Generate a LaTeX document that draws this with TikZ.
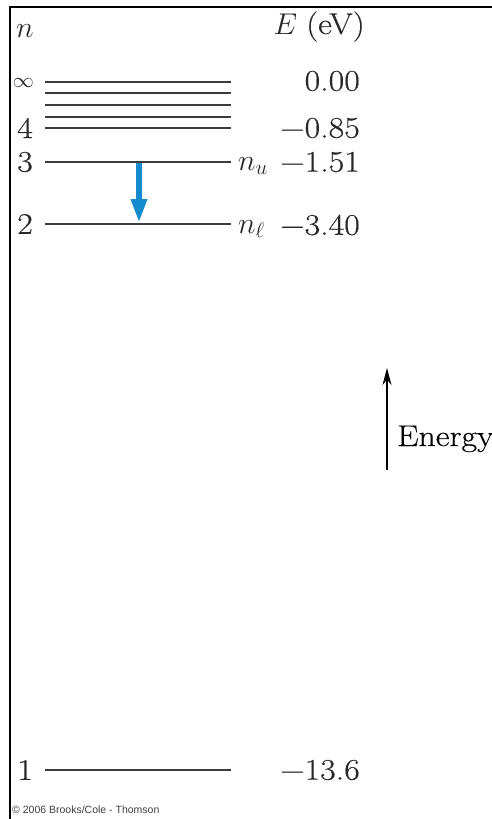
\RequirePackage{fix-cm}
\documentclass[tikz,border=0pt]{standalone}
\usepackage{fontspec}
\newfontfamily\smallsans{Liberation Sans}
\newfontfamily\widefont{Latin Modern Roman}[FakeStretch=1.13,FakeBold=0.4]
\usetikzlibrary{arrows.meta}
\definecolor{levelgray}{RGB}{60,60,60}
\definecolor{textgray}{RGB}{40,40,40}
\definecolor{arrowblue}{RGB}{20,140,205}
\begin{document}
\begin{tikzpicture}[x=1pt,y=-1pt,
  level/.style={draw=levelgray,line width=2pt},
  lbl/.style={inner sep=0pt,text=textgray,font=\fontsize{30}{36}\selectfont},
  wlbl/.style={inner sep=0pt,text=textgray,font=\widefont\fontsize{30}{36}\selectfont},
  val/.style={wlbl,anchor=east},
  nlab/.style={wlbl,anchor=east}]
\useasboundingbox (0,0) rectangle (491,819);
\fill[white] (0,0) rectangle (491,819);
% frame
\draw[line width=2pt] (10,830) -- (10,7) -- (500,7);
% headers
\node[lbl,anchor=base west] (hn) at (16,37) {$n$};
\node[lbl,anchor=base east] (hE) at (365,34) {$E$ {\widefont(eV)}};
% levels
\foreach \nm/\yy in {inf/82,l5/93,l6/105,l7/117,l4/128,l3/162,l2/224,l1/770}{
  \coordinate (\nm a) at (45,\yy);
  \coordinate (\nm b) at (231,\yy);
  \draw[level] (\nm a) -- (\nm b);
}
% left labels
\node[lbl,anchor=east,font=\fontsize{21}{24}\selectfont] (ninf) at (34,83) {$\infty$};
\node[nlab] (n4) at (33,128) {4};
\node[nlab] (n3) at (33,162) {3};
\node[nlab] (n2) at (33,224) {2};
\node[nlab] (n1) at (33,770) {1};
% energy values
\node[val] (e0) at (360,81) {0.00};
\node[val] (e4) at (360,128) {−0.85};
\node[val] (e3) at (360,162) {−1.51};
\node[val] (e2) at (360,225) {−3.40};
\node[val] (e1) at (360,770) {−13.6};
% n_u, n_l
\node[lbl,anchor=base west] (nu) at (238,170) {$n_u$};
\node[lbl,anchor=base west] (nl) at (238,233) {$n_\ell$};
% transition arrow
\coordinate (tA) at (139,163);
\coordinate (tB) at (139,223);
\draw[arrowblue,line width=6pt,-{Triangle[width=15pt,length=24pt]}] (tA) -- (tB);
% energy arrow
\coordinate (eA) at (387,470);
\coordinate (eB) at (387,368);
\draw[line width=1.2pt,-{Stealth[width=9pt,length=17pt]}] (eA) -- (eB);
\node[wlbl,anchor=base west,text=black] (en) at (397,446) {Energy};
% copyright
\node[anchor=west,inner sep=0pt,font=\smallsans\fontsize{10.5}{12}\selectfont,text=black!75] (cp) at (12,810) {\textcopyright\ 2006 Brooks/Cole - Thomson};
\end{tikzpicture}
\end{document}
